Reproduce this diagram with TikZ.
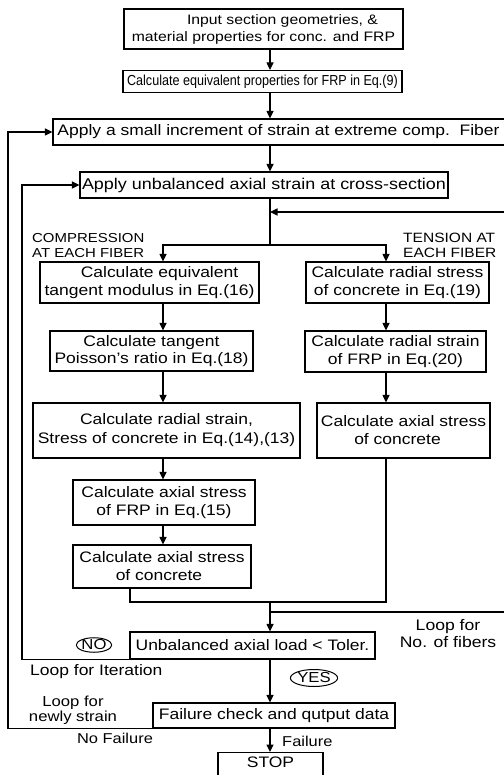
\documentclass[tikz,border=0pt]{standalone}
\usepackage{fontspec}
\usepackage{graphicx}
\setmainfont{Liberation Sans}[FakeStretch=1.15]
\usetikzlibrary{arrows.meta,shapes.geometric}
\newcommand\fsz[2]{\fontsize{#1}{#2}\selectfont}
\begin{document}
\begin{tikzpicture}[x=1pt,y=-1pt,
  box/.style={draw, line width=1.2pt, inner sep=0pt, align=center, font=\fsz{15.2}{17.5}},
  arr/.style={line width=1.2pt, -{Triangle[length=7.5pt,width=7pt]}},
  ln/.style={line width=1.2pt},
  lbl/.style={inner sep=0pt, font=\fsz{15.2}{17}},
  oval/.style={draw, ellipse, line width=1pt, inner sep=0pt, font=\fsz{14.5}{15}}]
\useasboundingbox[fill=white] (0,0) rectangle (503,775);
% spine coordinates
\coordinate (ms) at (270,0);
\coordinate (ls) at (163,0);
\coordinate (rs) at (386,0);
\coordinate (ux) at (130,0);
\coordinate (il) at (22,0);
\coordinate (ol) at (8,0);
\coordinate (br) at (270,245);
\coordinate (ub) at (0,602);
\coordinate (fl) at (270,612);
\coordinate (fr) at (520,612);
\coordinate (ft) at (520,212);
% boxes
\node[box, minimum width=279pt, minimum height=40pt, font=\fsz{13.7}{17}] (b1) at (263.5,29)
  {\hspace*{38pt}Input section geometries, \&\\material properties for conc. and FRP};
\node[box, minimum width=279pt, minimum height=22pt, font=\fsz{14.5}{15}] (b2) at (262.5,81.5)
  {\scalebox{0.755}[1]{Calculate equivalent properties for FRP in Eq.(9)}};
\node[box, minimum width=472pt, minimum height=26pt, font=\fsz{15.2}{18}] (b3) at (289,132)
  {Apply a small increment of strain at extreme comp.\ \ Fiber\hspace*{21pt}};
\node[box, minimum width=368pt, minimum height=26pt, font=\fsz{15.6}{18}] (b4) at (264,185)
  {Apply unbalanced axial strain at cross-section};
\node[box, minimum width=219pt, minimum height=41pt] (b5) at (149.5,282.5)
  {\hspace*{20pt}Calculate equivalent\\tangent modulus in Eq.(16)};
\node[box, minimum width=183pt, minimum height=41pt] (r1) at (397.5,282.5)
  {Calculate radial stress\\of concrete in Eq.(19)};
\node[box, minimum width=203pt, minimum height=40pt] (b6) at (151.5,351)
  {Calculate tangent\\Poisson's ratio in Eq.(18)};
\node[box, minimum width=181pt, minimum height=41pt] (r2) at (395.5,351.5)
  {Calculate radial strain\\of FRP in Eq.(20)};
\node[box, minimum width=267pt, minimum height=55pt, font=\fsz{15.2}{19}] (b7) at (166.5,430.5)
  {Calculate radial strain,\\Stress of concrete in Eq.(14),(13)};
\node[box, minimum width=173pt, minimum height=55pt, font=\fsz{15.2}{18}] (r3) at (403.5,430.5)
  {Calculate axial stress\\of concrete\hspace*{12pt}};
\node[box, minimum width=182pt, minimum height=45pt, font=\fsz{15.2}{18}] (b8) at (164,502.5)
  {Calculate axial stress\\of FRP in Eq.(15)};
\node[box, minimum width=178pt, minimum height=43pt, font=\fsz{15.2}{18}] (b9) at (162,566.5)
  {Calculate axial stress\\of concrete\hspace*{6pt}};
\node[box, minimum width=245pt, minimum height=27pt] (b10) at (252.5,645.5)
  {Unbalanced axial load < Toler.};
\node[box, minimum width=242pt, minimum height=25pt] (b11) at (274,715.5)
  {Failure check and qutput data};
\node[box, anchor=north, minimum width=105pt, inner ysep=4.5pt, text depth=26pt] (stop) at (270.5,752)
  {STOP};
% labels
\node[lbl, anchor=west, align=left, font=\fsz{13}{15}] (comp) at (32,245.5) {COMPRESSION\\AT EACH FIBER};
\node[lbl, anchor=west, align=left, font=\fsz{13.5}{15}] (tens) at (403,245.5) {TENSION AT\\EACH FIBER};
\node[lbl, align=center, font=\fsz{15.3}{17}] (loopfib) at (448,633.5) {Loop for\\No. of fibers};
\node[lbl, anchor=west] (loopit) at (30,672) {Loop for Iteration};
\node[lbl, align=center, font=\fsz{14.5}{12.5}] (loopnew) at (73,710) {Loop for\\newly strain};
\node[lbl, font=\fsz{14.3}{16}] (nofail) at (115,738) {No Failure};
\node[lbl, anchor=west, font=\fsz{14.3}{16}] (fail) at (282,741) {Failure};
\node[oval] (no) at (94,645) {NO};
\node[oval, minimum height=17pt] (yes) at (314,678) {YES};
% connectors
\draw[arr] (b1.south -| ms) -- (b2.north -| ms);
\draw[arr] (b2.south -| ms) -- (b3.north -| ms);
\draw[arr] (b3.south -| ms) -- (b4.north -| ms);
\draw[ln] (b4.south -| ms) -- (br);
\draw[arr] (br) -| (b5.north -| ls);
\draw[arr] (br) -| (r1.north -| rs);
\draw[arr] (fl) -- (fr) -- (ft) -- (ft -| ms);
\draw[arr] (b5.south -| ls) -- (b6.north -| ls);
\draw[arr] (b6.south -| ls) -- (b7.north -| ls);
\draw[arr] (b7.south -| ls) -- (b8.north -| ls);
\draw[arr] (b8.south -| ls) -- (b9.north -| ls);
\draw[arr] (r1.south -| rs) -- (r2.north -| rs);
\draw[arr] (r2.south -| rs) -- (r3.north -| rs);
\draw[ln] (b9.south -| ux) |- (ub -| rs) -- (r3.south -| rs);
\draw[arr] (ub -| ms) -- (b10.north -| ms);
\draw[arr] (b10.south west) -- (b10.south west -| il) |- (b4.west);
\draw[arr] (b10.south -| ms) -- (b11.north -| ms);
\draw[arr] (b11.south west) -- (b11.south west -| ol) |- (b3.west);
\draw[arr] (b11.south -| ms) -- (stop.north -| ms);
\end{tikzpicture}
\end{document}
